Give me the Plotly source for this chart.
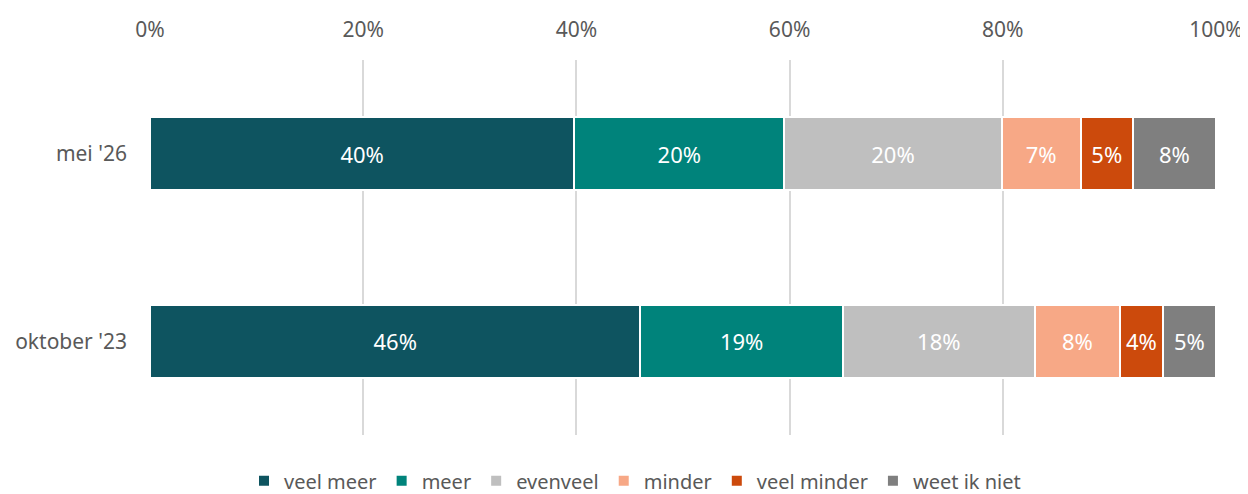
import plotly.graph_objects as go

categories = ["mei '26", "oktober '23"]
series_names = ["veel meer", "meer", "evenveel", "minder", "veel minder", "weet ik niet"]
veel_meer = [39.8, 46.0]
meer = [19.7, 19.0]
evenveel = [20.4, 18.0]
minder = [7.4, 8.0]
veel_minder = [4.9, 4.0]
weet_ik_niet = [7.8, 5.0]
tick_vals = [0, 20, 40, 60, 80, 100]
tick_text = ["0%", "20%", "40%", "60%", "80%", "100%"]

series_values = [veel_meer, meer, evenveel, minder, veel_minder, weet_ik_niet]
colors = ["#0E5460", "#00837B", "#BFBFBF", "#F7A886", "#CC4A0C", "#7F7F7F"]

FONT = "Noto Sans"
fig = go.Figure()
for name, vals, col in zip(series_names, series_values, colors):
    fig.add_trace(go.Bar(
        y=categories, x=vals, name=name, orientation="h",
        marker=dict(color=col, line=dict(color="white", width=2)),
        text=[f"{round(v)}%" for v in vals],
        textposition="inside", insidetextanchor="middle",
        textfont=dict(color="white", size=22, family=FONT),
        width=0.39,
    ))

# page body has an 8px margin, so the figure is 8px smaller and margins are shifted
fig.update_layout(
    barmode="stack",
    width=1240, height=486,
    margin=dict(l=142, r=32, t=52, b=59, autoexpand=False),
    paper_bgcolor="white", plot_bgcolor="white",
    font=dict(family=FONT, color="#595959", size=21),
    uniformtext=dict(mode="show", minsize=10),
    xaxis=dict(range=[0, 100], side="top", tickvals=tick_vals, ticktext=tick_text,
               showgrid=True, gridcolor="#D9D9D9", gridwidth=2, zeroline=False,
               showline=False, ticks="", tickfont=dict(size=21, color="#595959"),
               ticklabelstandoff=18, automargin=False, ticklabeloverflow="allow"),
    yaxis=dict(categoryorder="array", categoryarray=categories,
               range=[1.5, -0.5], showgrid=False, zeroline=False, ticks="",
               tickfont=dict(size=21, color="#595959"), ticklabelstandoff=22,
               automargin=False),
    legend=dict(orientation="h", x=0.455, xanchor="center", y=-0.07, yanchor="top",
                font=dict(size=20, color="#595959"), itemwidth=30,
                traceorder="normal"),
    showlegend=True,
)
fig.write_html("out.html")
